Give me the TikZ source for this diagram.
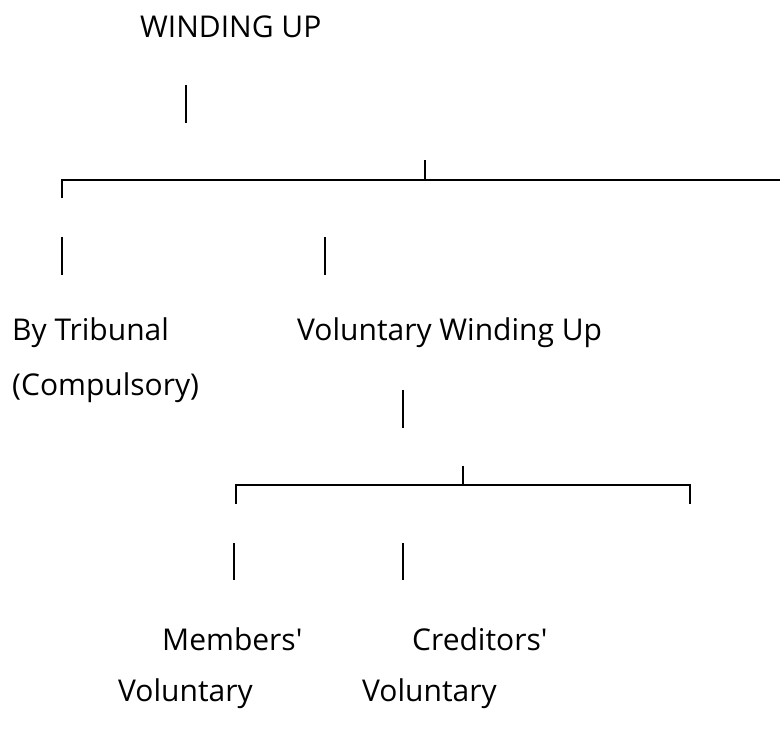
\documentclass[tikz,border=0pt]{standalone}
\usepackage{fontspec}
\setmainfont{Open Sans}[Ligatures=TeXOff]
\begin{document}
\begin{tikzpicture}[x=1pt,y=-1pt,
  lbl/.style={anchor=west,inner sep=0pt,font=\fontsize{30}{30}\selectfont,text=black},
  bar/.style={line width=2.2pt,black},
  brk/.style={line width=2.6pt,black}]
\useasboundingbox (0,0) rectangle (780,730);
% texts
\node[lbl] (wu) at (140,27) {WINDING UP};
\node[lbl] (trib) at (12,333) {By Tribunal};
\node[lbl] (comp) at (12,388) {(Compulsory)};
\node[lbl] (vol) at (297,333) {Voluntary Winding Up};
\node[lbl] (mem) at (162,639) {Members'};
\node[lbl] (cred) at (412,639) {Creditors'};
\node[lbl] (mv) at (118,694) {Voluntary};
\node[lbl] (cv) at (362,694) {Voluntary};
% bar under title
\coordinate (b1t) at (186,85); \coordinate (b1b) at (186,123);
\draw[bar] (b1t) -- (b1b);
% first bracket
\coordinate (k1l) at (62,198); \coordinate (k1c) at (62,180);
\coordinate (k1r) at (780,180); \coordinate (k1m) at (425,180); \coordinate (k1t) at (425,160);
\draw[brk] (k1l) -- (k1c) -- (k1r);
\draw[brk] (k1m) -- (k1t);
% bars to level 1
\coordinate (b2t) at (62,237); \coordinate (b2b) at (62,275);
\coordinate (b3t) at (325,237); \coordinate (b3b) at (325,275);
\draw[bar] (b2t) -- (b2b);
\draw[bar] (b3t) -- (b3b);
% bar under voluntary
\coordinate (b4t) at (403,390); \coordinate (b4b) at (403,428);
\draw[bar] (b4t) -- (b4b);
% second bracket
\coordinate (k2l) at (236,504); \coordinate (k2lc) at (236,485);
\coordinate (k2rc) at (690,485); \coordinate (k2r) at (690,504);
\coordinate (k2m) at (463,485); \coordinate (k2t) at (463,466);
\draw[brk] (k2l) -- (k2lc) -- (k2rc) -- (k2r);
\draw[brk] (k2m) -- (k2t);
% bars to level 2
\coordinate (b5t) at (234,543); \coordinate (b5b) at (234,580);
\coordinate (b6t) at (403,543); \coordinate (b6b) at (403,580);
\draw[bar] (b5t) -- (b5b);
\draw[bar] (b6t) -- (b6b);
\end{tikzpicture}
\end{document}
